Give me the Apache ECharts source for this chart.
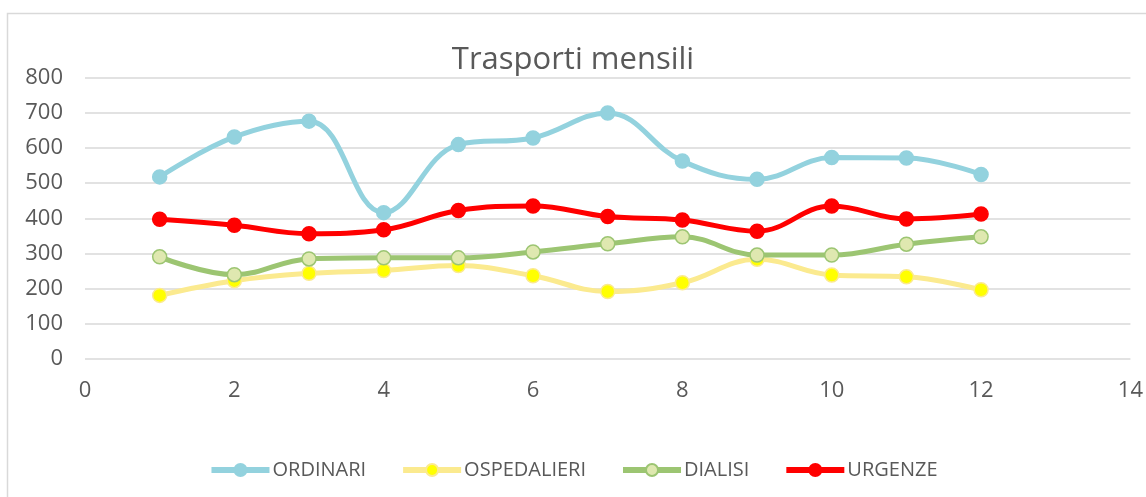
<!DOCTYPE html>
<html>
<head>
<meta charset="utf-8">
<script src="https://cdn.jsdelivr.net/npm/echarts@6/dist/echarts.min.js"></script>
<style>
html,body{margin:0;padding:0;background:#fff;}
#chart{width:1146px;height:497px;}
</style>
</head>
<body>
<div id="chart"></div>
<script>
const months = [1,2,3,4,5,6,7,8,9,10,11,12];
const ordinari = [518,632,677,416,610,629,700,563,511,573,572,525];
const ospedalieri = [180,222,243,251,265,236,191,216,283,238,233,196];
const dialisi = [290,239,284,287,287,304,327,347,295,295,326,347];
const urgenze = [397,380,356,367,422,435,405,395,363,435,398,412];
const xTicks = [0,2,4,6,8,10,12,14];
const yTicks = [0,100,200,300,400,500,600,700,800];

const pairs = vals => months.map((m,i)=>[m, vals[i]]);
const font = "'Open Sans', 'Liberation Sans', sans-serif";
const textColor = '#595959';

function mk(name, vals, lineColor, fill, border) {
  return {
    name, type:'line', data: pairs(vals), smooth:0.4,
    symbol:'circle', symbolSize:14,
    lineStyle:{color:lineColor, width:5},
    itemStyle:{color:fill, borderColor:border, borderWidth:1.5},
    emphasis:{disabled:true}
  };
}

const chart = echarts.init(document.getElementById('chart'), null, {renderer:'canvas'});
chart.setOption({
  animation:false,
  backgroundColor:'#fff',
  graphic:[{type:'rect', silent:true, z:-1,
    shape:{x:7.5,y:13.5,width:1400,height:800},
    style:{fill:'none', stroke:'#d9d9d9', lineWidth:1.5}}],
  title:{text:'Trasporti mensili', left:'center', top:40,
    textStyle:{fontFamily:font, fontSize:31, fontWeight:'normal', color:textColor}},
  grid:{left:85, right:15, top:78, bottom:138.5, containLabel:false},
  legend:{top:455, left:'center', itemWidth:58, itemHeight:15, itemGap:34,
    lineStyle:{width:6},
    textStyle:{fontFamily:font, fontSize:20, color:textColor, padding:[0,0,0,-2]},
    data:['ORDINARI','OSPEDALIERI','DIALISI','URGENZE']},
  xAxis:{type:'value', min:xTicks[0], max:xTicks[xTicks.length-1], interval:2,
    axisLine:{show:false}, axisTick:{show:false}, splitLine:{show:false},
    axisLabel:{fontFamily:font, fontSize:22, color:textColor, margin:21}},
  yAxis:{type:'value', min:yTicks[0], max:yTicks[yTicks.length-1], interval:100,
    axisLine:{show:false}, axisTick:{show:false},
    splitLine:{lineStyle:{color:'#d9d9d9', width:1.5}},
    axisLabel:{fontFamily:font, fontSize:22, color:textColor, margin:22}},
  series:[
    mk('ORDINARI', ordinari, '#93d2de', '#93d2de', '#93d2de'),
    mk('OSPEDALIERI', ospedalieri, '#fbea8f', '#ffff00', '#fbea8f'),
    mk('DIALISI', dialisi, '#9cc572', '#dfe8b0', '#9cc572'),
    mk('URGENZE', urgenze, '#ff0000', '#ff0000', '#ff0000')
  ]
});
</script>
</body>
</html>
